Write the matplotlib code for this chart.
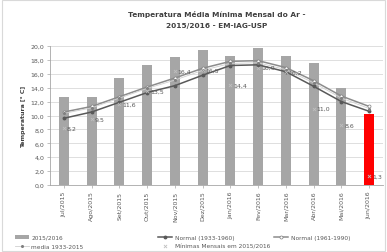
import numpy as np
import matplotlib.pyplot as plt
from matplotlib.patches import Rectangle

# dados
meses = ['Jul/2015', 'Ago/2015', 'Set/2015', 'Out/2015', 'Nov/2015', 'Dez/2015',
         'Jan/2016', 'Fev/2016', 'Mar/2016', 'Abr/2016', 'Mai/2016', 'Jun/2016']
tmin_2015_16 = [12.7, 12.7, 15.4, 17.3, 18.4, 19.4, 18.6, 19.7, 18.6, 17.6, 14.0, 10.2]
normal_1933_60 = [9.6, 10.5, 11.9, 13.3, 14.3, 15.8, 17.2, 17.3, 16.3, 14.2, 12.0, 10.6]
normal_1961_90 = [10.5, 11.3, 12.7, 14.1, 15.4, 16.8, 17.8, 17.9, 16.9, 15.0, 12.8, 11.3]
media_1933_15 = [10.3, 11.1, 12.5, 13.9, 15.1, 16.5, 17.5, 17.6, 16.6, 14.7, 12.5, 11.0]
minimas = [8.2, 9.5, 11.6, 13.5, 16.4, 16.5, 14.4, 16.9, 16.2, 11.0, 8.6, 1.3]

plt.rcParams['font.family'] = ['DejaVu Sans']

fig = plt.figure(figsize=(3.87, 2.53), dpi=100)
fig.patches.append(Rectangle((0.005, 0.005), 0.99, 0.99, transform=fig.transFigure,
                             fill=False, edgecolor='#d9d9d9', linewidth=0.8))
ax = fig.add_axes([0.129, 0.265, 0.861, 0.549])

x = np.arange(len(meses))
cores = ['#a6a6a6'] * (len(meses) - 1) + ['#ff0000']
barras = ax.bar(x, tmin_2015_16, width=0.36, color=cores, zorder=2)

l1, = ax.plot(x, normal_1933_60, color='#595959', lw=1.1, marker='o', ms=1.8, zorder=3)
l2, = ax.plot(x, normal_1961_90, color='#8c8c8c', lw=1.1, marker='o', ms=2.2,
              mfc='white', mec='#7f7f7f', mew=0.5, zorder=3)
l3, = ax.plot(x, media_1933_15, color='#d0d0d0', lw=0.6, marker='o', ms=1.2,
              mfc='#808080', mec='#808080', zorder=4)
sc = ax.scatter(x, minimas, marker='x', s=5, color='#bfbfbf', linewidths=0.6, zorder=5)

for xi, v in zip(x, minimas):
    ax.text(xi + 0.1, v, f'{v:.1f}'.replace('.', ','), fontsize=4.5,
            color='#595959', va='center', ha='left', zorder=6)

ax.set_ylim(0, 20)
ax.set_xlim(-0.5, len(meses) - 0.5)
ax.set_yticks(np.arange(0, 21, 2))
ax.set_yticklabels([f'{v:.1f}'.replace('.', ',') for v in np.arange(0, 21, 2)],
                   fontsize=4.5, color='#595959')
ax.set_xticks(x)
ax.set_xticklabels(meses, rotation=90, fontsize=4.5, color='#595959')
ax.tick_params(axis='both', length=2, width=0.5, color='#a6a6a6', pad=2)
ax.grid(axis='y', color='#d9d9d9', lw=0.6, zorder=0)
ax.set_axisbelow(True)
for s in ['top', 'right']:
    ax.spines[s].set_visible(False)
for s in ['left', 'bottom']:
    ax.spines[s].set_color('#a6a6a6')
    ax.spines[s].set_linewidth(0.6)

ax.set_ylabel('Temperatura [° C]', fontsize=4.5, fontweight='bold', color='#404040', labelpad=3)
ax.set_title('Temperatura Média Mínima Mensal do Ar -\n2015/2016 - EM-IAG-USP',
             fontsize=5.3, fontweight='bold', color='#404040', pad=14, linespacing=1.9)

# legenda em tres colunas
colunas = [([barras, l3], ['2015/2016', 'media 1933-2015'], 0.03),
           ([l1, sc], ['Normal (1933-1960)', 'Mínimas Mensais em 2015/2016'], 0.40),
           ([l2], ['Normal (1961-1990)'], 0.70)]
for hs, ls, xpos in colunas:
    leg = fig.legend(hs, ls, loc='upper left', bbox_to_anchor=(xpos, 0.08),
                     fontsize=4.2, frameon=False, handlelength=2.5, borderpad=0,
                     labelcolor='#595959', handletextpad=0.4, labelspacing=0.7)

fig.savefig('out.png', dpi=100)
